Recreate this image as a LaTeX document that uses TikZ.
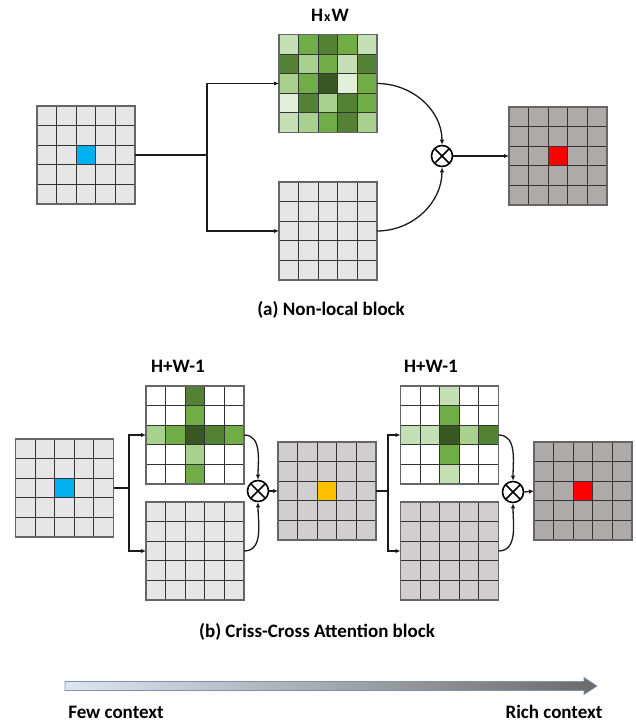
\documentclass[tikz,border=0pt]{standalone}
\usepackage{fontspec}
\setmainfont{Carlito}
\usetikzlibrary{arrows.meta}
\definecolor{LG}{HTML}{E6E6E6}
\definecolor{MG}{HTML}{D0CECE}
\definecolor{DG}{HTML}{AEAAAA}
\definecolor{W}{HTML}{FFFFFF}
\definecolor{G1}{HTML}{E2F0D9}
\definecolor{G2}{HTML}{C5E0B4}
\definecolor{G3}{HTML}{A9D18E}
\definecolor{G4}{HTML}{70AD47}
\definecolor{G5}{HTML}{548235}
\definecolor{G6}{HTML}{385723}
\definecolor{BL}{HTML}{00B0F0}
\definecolor{OR}{HTML}{FFC000}
\definecolor{RD}{HTML}{FF0000}
\definecolor{linec}{HTML}{1A1A1A}
\definecolor{arrL}{HTML}{DDE5F2}
\definecolor{arrR}{HTML}{6A6A6A}
\definecolor{arrB}{HTML}{7F93B5}
\tikzset{
  gridline/.style={draw=black!80, line width=0.9pt},
  gridbox/.style={rectangle, minimum size=98pt, inner sep=0pt, outer sep=0pt, draw=black!60, line width=1.2pt},
  conn/.style={draw=linec, line width=1.3pt},
  tip/.style={-{Latex[length=5pt,width=4.5pt]}},
  otimes/.style={circle, draw=black, line width=1.6pt, minimum size=21pt, inner sep=0pt,
    path picture={\draw[line width=1.6pt] (path picture bounding box.north west) -- (path picture bounding box.south east)
      (path picture bounding box.north east) -- (path picture bounding box.south west);}},
  lbl/.style={font=\bfseries\fontsize{19}{22}\selectfont, inner sep=0pt}
}
\newcommand{\cellgrid}[4]{%
  \foreach \c [count=\i from 0] in {#4} {
    \pgfmathtruncatemacro{\rr}{\i/5}
    \pgfmathtruncatemacro{\cc}{\i-5*\rr}
    \fill[fill=\c] ({#2-49+\cc*19.6},{#3+49-\rr*19.6}) rectangle ++(19.6,-19.6);
  }
  \foreach \k in {1,...,4} {
    \draw[gridline] ({#2-49+\k*19.6},{#3-49}) -- ++(0,98);
    \draw[gridline] ({#2-49},{#3-49+\k*19.6}) -- ++(98,0);
  }
  \node[gridbox] (#1) at (#2,#3) {};
}
\begin{document}
\begin{tikzpicture}[x=1pt,y=1pt]
\useasboundingbox (0,0) rectangle (635,723);
% ---------- (a) Non-local block
\cellgrid{in1}{86}{568}{LG,LG,LG,LG,LG, LG,LG,LG,LG,LG, LG,LG,BL,LG,LG, LG,LG,LG,LG,LG, LG,LG,LG,LG,LG}
\cellgrid{g1}{328}{639.5}{G2,G4,G5,G4,G2, G5,G3,G4,G2,G5, G3,G4,G6,G1,G4, G1,G5,G3,G5,G4, G2,G3,G4,G5,G3}
\cellgrid{k1}{328}{492}{LG,LG,LG,LG,LG, LG,LG,LG,LG,LG, LG,LG,LG,LG,LG, LG,LG,LG,LG,LG, LG,LG,LG,LG,LG}
\cellgrid{o1}{558}{567}{DG,DG,DG,DG,DG, DG,DG,DG,DG,DG, DG,DG,RD,DG,DG, DG,DG,DG,DG,DG, DG,DG,DG,DG,DG}
\node[otimes] (m1) at (442,567) {};
\coordinate (s1) at (207,568);
\draw[conn] (in1.east) -- (s1);
\draw[conn,tip] (s1) |- (g1.west);
\draw[conn,tip] (s1) |- (k1.west);
\draw[conn,tip] (g1.east) to[out=0,in=90] (m1.north);
\draw[conn,tip] (k1.east) to[out=0,in=-90] (m1.south);
\draw[conn,tip] (m1.east) -- (o1.west);
\node[lbl] (tHW) at (330,708) {H\kern1pt{\fontsize{14}{16}\selectfont x}\kern1pt W};
\node[lbl] (ta) at (331,413) {(a) Non-local block};
% ---------- (b) Criss-Cross Attention block
\cellgrid{in2}{64.5}{235}{LG,LG,LG,LG,LG, LG,LG,LG,LG,LG, LG,LG,BL,LG,LG, LG,LG,LG,LG,LG, LG,LG,LG,LG,LG}
\cellgrid{g2}{195}{288}{W,W,G5,W,W, W,W,G4,W,W, G3,G4,G6,G5,G4, W,W,G3,W,W, W,W,G4,W,W}
\cellgrid{k2}{195}{172}{LG,LG,LG,LG,LG, LG,LG,LG,LG,LG, LG,LG,LG,LG,LG, LG,LG,LG,LG,LG, LG,LG,LG,LG,LG}
\cellgrid{mid}{327}{232}{MG,MG,MG,MG,MG, MG,MG,MG,MG,MG, MG,MG,OR,MG,MG, MG,MG,MG,MG,MG, MG,MG,MG,MG,MG}
\cellgrid{g3}{449.5}{288}{W,W,G2,W,W, W,W,G4,W,W, G2,G2,G6,G3,G5, W,W,G4,W,W, W,W,G2,W,W}
\cellgrid{k3}{449.5}{172}{MG,MG,MG,MG,MG, MG,MG,MG,MG,MG, MG,MG,MG,MG,MG, MG,MG,MG,MG,MG, MG,MG,MG,MG,MG}
\cellgrid{o2}{583}{232}{DG,DG,DG,DG,DG, DG,DG,DG,DG,DG, DG,DG,RD,DG,DG, DG,DG,DG,DG,DG, DG,DG,DG,DG,DG}
\node[otimes] (m2) at (258,232) {};
\node[otimes] (m3) at (513,231) {};
\coordinate (s2) at (129,235);
\coordinate (s3) at (388,232);
\draw[conn] (in2.east) -- (s2);
\draw[conn,tip] (s2) |- (g2.west);
\draw[conn,tip] (s2) |- (k2.west);
\draw[conn,tip] (g2.east) to[out=0,in=90] (m2.north);
\draw[conn,tip] (k2.east) to[out=0,in=-90] (m2.south);
\draw[conn,tip] (m2.east) -- (mid.west);
\draw[conn] (mid.east) -- (s3);
\draw[conn,tip] (s3) |- (g3.west);
\draw[conn,tip] (s3) |- (k3.west);
\draw[conn,tip] (g3.east) to[out=0,in=90] (m3.north);
\draw[conn,tip] (k3.east) to[out=0,in=-90] (m3.south);
\draw[conn,tip] (m3.east) -- (o2.west);
\node[lbl] (thw1) at (178,357) {H+W-1};
\node[lbl] (thw2) at (431,357) {H+W-1};
\node[lbl] (tb) at (317,91) {(b) Criss-Cross Attention block};
% ---------- context arrow
\shade[left color=arrL, right color=arrR, draw=arrB, line width=0.6pt]
  (65,41.5) -- (584,41.5) -- (584,45.5) -- (597,37) -- (584,28.5) -- (584,32.5) -- (65,32.5) -- cycle;
\node[lbl] (tfew) at (116,11) {Few context};
\node[lbl] (trich) at (554,11) {Rich context};
\end{tikzpicture}
\end{document}
